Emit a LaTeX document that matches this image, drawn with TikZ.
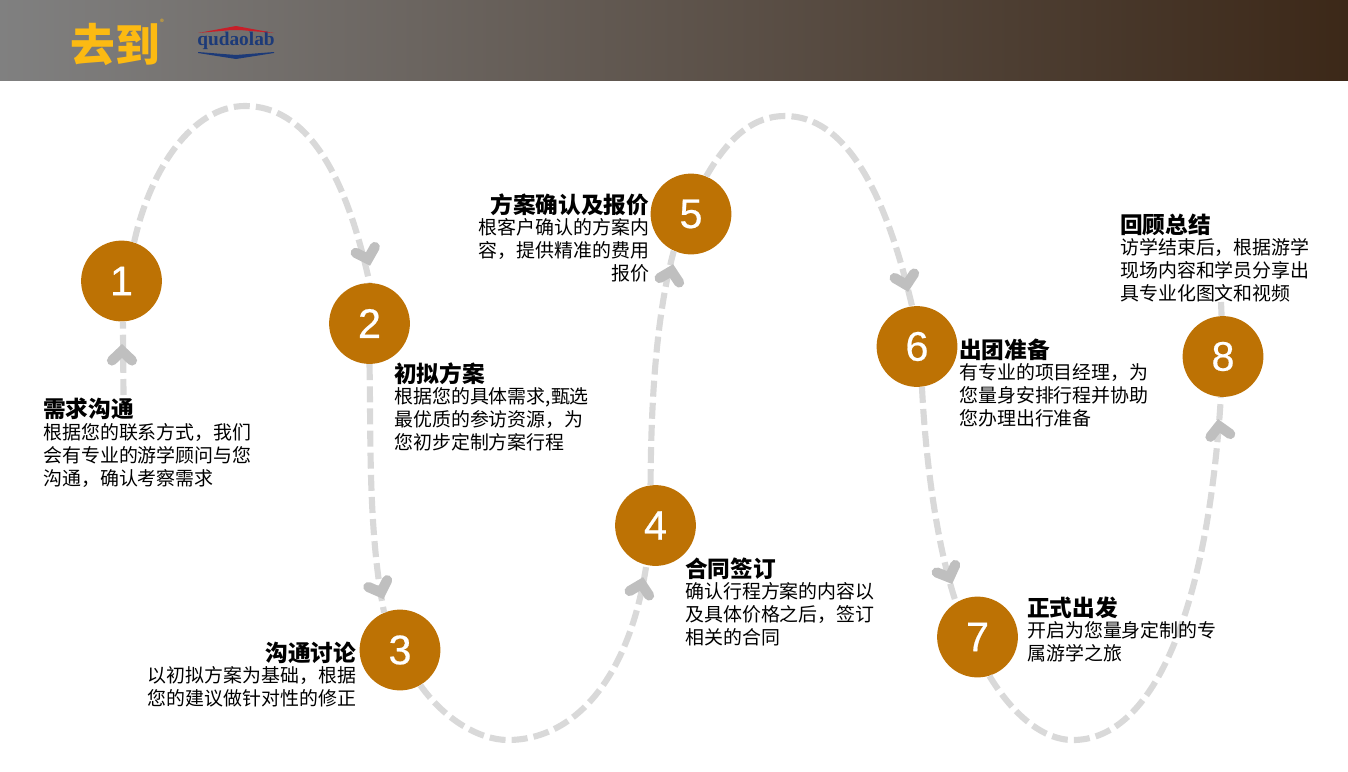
\documentclass[tikz,border=0pt]{standalone}
\usepackage{fontspec}
\setmainfont{Noto Sans CJK SC}
\newfontfamily\numfont[FakeBold=0.5]{Liberation Sans}
\newfontfamily\logofont{Liberation Serif}
\usetikzlibrary{calc}
\definecolor{medal}{RGB}{189,114,4}
\definecolor{dashgray}{RGB}{217,217,217}
\definecolor{chevgray}{RGB}{191,191,191}
\definecolor{headL}{RGB}{128,128,128}
\definecolor{headR}{RGB}{60,40,24}
\definecolor{logoY}{RGB}{252,186,18}
\definecolor{logoB}{RGB}{28,58,120}
\definecolor{logoR}{RGB}{200,30,40}
\tikzset{
  x=0.75pt,y=-0.75pt,
  num/.style={circle,fill=medal,minimum size=60.6pt,inner sep=0pt,text=white,font=\numfont\fontsize{31}{31}\selectfont},
  conn/.style={draw=dashgray,line width=4.6pt,dash pattern=on 12pt off 4.6pt},
  chev/.pic={\draw[chevgray,line width=7.6pt,line cap=round,line join=miter] (-10,9.5)--(0,0)--(10,9.5);},
  ttl/.style={inner sep=0pt,font=\fontsize{17}{20}\selectfont\bfseries,text=black},
  body/.style={inner sep=0pt,font=\fontsize{14.2}{17.3}\selectfont,text=black},
}
\begin{document}
\begin{tikzpicture}
\useasboundingbox (0,0) rectangle (1348,771);
\fill[left color=headL,right color=headR] (0,0) rectangle (1348,80.6);
% logo
\node (logoa) [anchor=center,inner sep=0pt,text=logoY,font=\fontsize{33.5}{34}\selectfont\bfseries] at (115,44) {去到};
\node (logoc) [inner sep=0pt,text=logoY,font=\fontsize{6}{6}\selectfont] at (162,22) {®};
\node (logob) [inner sep=0pt,text=logoB,font=\logofont\fontsize{14.5}{15}\selectfont\bfseries] at (236,41) {qudaolab};
\fill[logoR] (198,33)--(236,26)--(274,33)--(240,30)--(232,30)--cycle;
\fill[logoB] (198,52)--(236,55)--(274,52)--(274,53)--(236,59)--(198,53)--cycle;
% circles
\node[num] (n1) at (121.5,281) {1};
\node[num] (n2) at (369.5,323.5) {2};
\node[num] (n3) at (400,650) {3};
\node[num] (n4) at (655.5,525.5) {4};
\node[num] (n5) at (691,214) {5};
\node[num] (n6) at (917,346.5) {6};
\node[num] (n7) at (977.5,637) {7};
\node[num] (n8) at (1223,356.5) {8};
\coordinate (s1) at (123.5,395);
\coordinate (e8) at (1221,302);
% connectors
\draw[conn] (s1) -- (n1.272);
\draw[conn] (n1.72) .. controls (150,170) and (192,106) .. (245,106) .. controls (305,106) and (345,170) .. (n2.north);
\draw[conn] (n2.south) .. controls (371,440) and (368,530) .. (n3.113);
\draw[conn] (n3.300) .. controls (445,720) and (480,740) .. (508,740) .. controls (570,740) and (628,685) .. (n4.257);
\draw[conn] (n4.97) .. controls (651,410) and (655,320) .. (n5.245);
\draw[conn] (n5.68) .. controls (730,135) and (755,116) .. (785,116) .. controls (845,116) and (885,190) .. (n6.97);
\draw[conn] (n6.277) .. controls (925,450) and (935,540) .. (n7.122);
\draw[conn] (n7.287) .. controls (1010,710) and (1040,740) .. (1073,740) .. controls (1150,740) and (1207,620) .. (n8.267);
\draw[conn] (n8.92) -- (e8);
% chevrons
\pic at (122,351) {chev};
\pic[rotate=197] at (368,259) {chev};
\pic[rotate=200] at (381,592.5) {chev};
\pic[rotate=-13] at (641.5,584) {chev};
\pic[rotate=-13] at (671.5,271) {chev};
\pic[rotate=193] at (906.5,285) {chev};
\pic[rotate=202] at (949.5,577.5) {chev};
\pic[rotate=8] at (1219,426) {chev};
% titles
\node[ttl,anchor=west] (t1) at (43,408.5) {需求沟通};
\node[ttl,anchor=west] (t2) at (394,373.5) {初拟方案};
\node[ttl,anchor=east] (t3) at (356.5,652.5) {沟通讨论};
\node[ttl,anchor=west] (t4) at (685,568.5) {合同签订};
\node[ttl,anchor=east] (t5) at (649.5,204.5) {方案确认及报价};
\node[ttl,anchor=west] (t6) at (959,349.5) {出团准备};
\node[ttl,anchor=west] (t7) at (1027,607.5) {正式出发};
\node[ttl,anchor=west] (t8) at (1120,224.5) {回顾总结};
% bodies
\node[body,anchor=north west,align=left] (b1) at (43,423) {根据您的联系方式，我们\\会有专业的游学顾问与您\\沟通，确认考察需求};
\node[body,anchor=north west,align=left] (b2) at (394,387) {根据您的具体需求,甄选\\最优质的参访资源，为\\您初步定制方案行程};
\node[body,anchor=north east,align=right] (b3) at (356.5,666) {以初拟方案为基础，根据\\您的建议做针对性的修正};
\node[body,anchor=north west,align=left] (b4) at (685,582) {确认行程方案的内容以\\及具体价格之后，签订\\相关的合同};
\node[body,anchor=north east,align=right] (b5) at (649.5,218) {根客户确认的方案内\\容，提供精准的费用\\报价};
\node[body,anchor=north west,align=left] (b6) at (959,363) {有专业的项目经理，为\\您量身安排行程并协助\\您办理出行准备};
\node[body,anchor=north west,align=left] (b7) at (1027,621) {开启为您量身定制的专\\属游学之旅};
\node[body,anchor=north west,align=left] (b8) at (1120,238) {访学结束后，根据游学\\现场内容和学员分享出\\具专业化图文和视频};
\end{tikzpicture}
\end{document}
